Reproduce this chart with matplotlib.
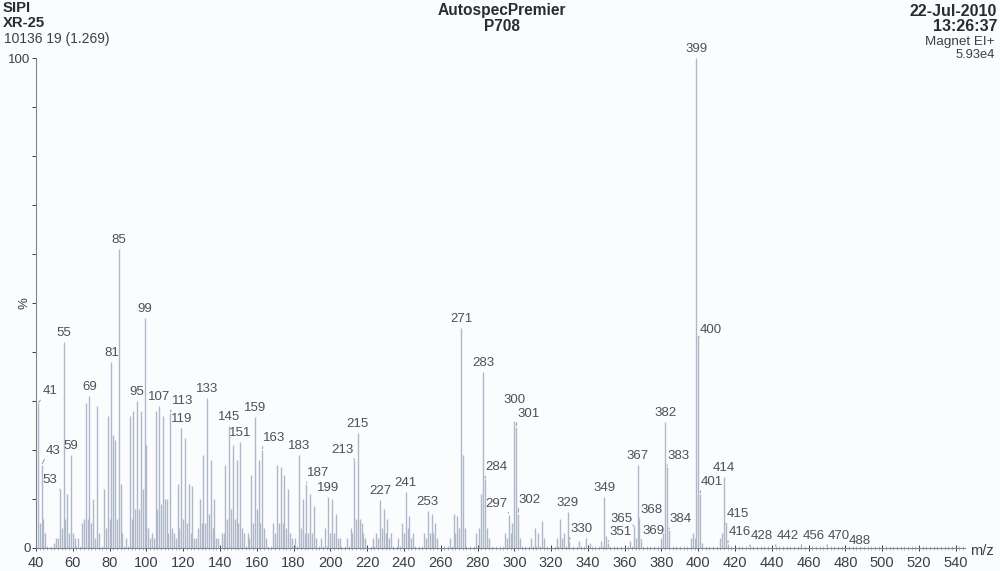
import numpy as np
import matplotlib.pyplot as plt
from matplotlib.ticker import MultipleLocator

# m/z values and relative intensities (%)
mz = [41, 42, 43, 44, 45, 50, 51, 52, 53, 54, 55, 56, 57, 58, 59, 60, 61,
      63, 65, 66, 67, 68, 69, 70, 71, 72, 73, 74,
      77, 78, 79, 80, 81, 82, 83, 84, 85, 86, 87,
      89, 91, 92, 93, 94, 95, 96, 97, 98, 99, 100, 101, 102,
      103, 104, 105, 106, 107, 108, 109, 110, 111, 112, 113, 114, 115, 116,
      117, 118, 119, 120, 121, 122, 123, 124, 125, 126,
      127, 128, 129, 130, 131, 132, 133, 134, 135, 136, 137, 138, 139,
      141, 142, 143, 144, 145, 146, 147, 148, 149, 150, 151, 152, 153,
      155, 156, 157, 158, 159, 160, 161, 162, 163, 164, 165,
      169, 170, 171, 172, 173, 174, 175, 176, 177, 178, 179,
      181, 183, 184, 185, 186, 187, 188, 189, 190, 191, 192,
      195, 197, 199, 200, 201, 202, 203, 204, 205,
      209, 211, 212, 213, 214, 215, 216, 217, 218, 219,
      223, 225, 226, 227, 228, 229, 230, 231, 232, 233,
      237, 239, 240, 241, 242, 243, 244, 245,
      251, 252, 253, 254, 255, 256, 257, 258,
      265, 267, 268, 269, 270, 271, 272, 273,
      279, 281, 282, 283, 284, 285, 286,
      295, 296, 297, 298, 299, 300, 301, 302, 303,
      309, 311, 313, 315, 316,
      323, 325, 326, 327, 329, 330,
      335, 339, 341, 347, 349, 350, 351,
      363, 365, 366, 367, 368, 369,
      380, 381, 382, 383, 384,
      396, 397, 398, 399, 400, 401, 402,
      412, 413, 414, 415, 416, 428, 442, 456, 470, 488]
intensity = [29.5, 5, 17, 6, 3, 1, 2, 2, 12, 4, 42, 6, 11, 3, 19, 3, 2,
             2, 5, 6, 29.6, 6, 31, 5, 10, 2, 29, 3,
             12, 4, 27, 6, 38, 23, 22, 6, 61, 13, 3,
             2, 27, 6, 28, 8, 30, 8, 28, 12, 47, 21, 4, 2,
             3, 2, 28, 8, 29, 9, 27, 10, 10, 3, 27.5, 4, 3, 2,
             13, 4, 24.5, 6, 22.5, 5, 13, 3, 12.7, 2,
             2, 4, 10, 5, 19, 5, 30.6, 7, 18, 4, 10, 2, 2,
             3, 3, 17, 6, 25, 8, 21, 6, 18, 5, 21.6, 4, 3,
             3, 2, 15, 5, 26.7, 8, 18, 5, 20, 4, 2,
             5, 3, 17, 5, 16.5, 5, 15, 4, 12, 3, 2,
             2, 19, 4, 10, 3, 13, 3, 11, 3, 8.5, 2,
             2, 4, 10.5, 3, 10, 3, 7, 2, 2,
             2, 4, 3, 18, 6, 23.5, 6, 5, 3, 2,
             2, 3, 2, 9.8, 4, 8, 3, 6, 2, 3,
             2, 5, 3, 11.5, 4, 6.5, 2, 3,
             3, 2, 7.5, 3, 7, 3, 5, 2,
             2, 7, 3, 6.5, 4, 45, 19, 4,
             3, 4, 11, 36, 14, 4, 2,
             3, 2, 6.8, 3, 5, 26, 24.7, 7, 2,
             2, 4, 3, 5.5, 2,
             2, 6, 2, 3, 7.3, 1.5,
             1.5, 2, 1, 1.5, 10.5, 2.5, 1,
             1.5, 4.5, 2, 17, 6, 1.5,
             2, 3, 25.7, 16.5, 3.6,
             2, 3, 2, 100, 43, 11, 1,
             2, 3, 14.5, 5, 0.8, 0.4, 0.4, 0.4, 0.4, 0.3]

labeled = [41, 43, 53, 55, 59, 69, 81, 85, 95, 99, 107, 113, 119, 133, 145,
           151, 159, 163, 183, 187, 199, 213, 215, 227, 241, 253, 271, 283,
           284, 297, 300, 301, 302, 329, 330, 349, 351, 365, 367, 368, 369,
           382, 383, 384, 399, 400, 401, 414, 415, 416, 428, 442, 456, 470, 488]

# label placement (pixels from peak top to label centre); default is straight above
label_offsets = {41: (12, 12), 43: (12, 14), 53: (-10, 9), 113: (12, 12),
                 163: (12, 12), 187: (12, 11), 213: (-12, 10), 284: (12, 12),
                 297: (-12, 11), 300: (0, 21), 301: (12, 13), 302: (12, 14),
                 330: (12, 12), 351: (12, 11), 365: (-12, 7), 368: (12, 9),
                 369: (12, 10), 383: (12, 11), 384: (12, 11), 400: (12, 7),
                 401: (12, 12), 415: (12, 9), 416: (12, 12), 428: (12, 10),
                 442: (12, 10), 456: (12, 10), 470: (12, 10), 488: (0, 6)}

BAR_COLOR = '#aeb8c8'
TEXT_COLOR = '#3c3f46'
LABEL_COLOR = '#4b505a'
HEAD_COLOR = '#2a2c30'

plt.rcParams['font.family'] = ['Liberation Sans', 'DejaVu Sans']

fig = plt.figure(figsize=(10, 5.71), dpi=100)
fig.patch.set_facecolor('#fbfcfd')
ax = fig.add_axes([0.036, 0.0403, 0.929, 0.858])
ax.set_facecolor('none')

ax.vlines(mz, 0, intensity, color=BAR_COLOR, linewidth=1.0)

heights = dict(zip(mz, intensity))
for m in labeled:
    dx, dy = label_offsets.get(m, (0, 9))
    props = None
    if abs(dx) > 4:
        props = dict(arrowstyle='-', color='#8c93a0', lw=0.7,
                     shrinkA=0, shrinkB=1,
                     relpos=(0.0, 0.0) if dx > 0 else (1.0, 0.0))
    ax.annotate(str(m), xy=(m, heights[m]), xytext=(dx, dy),
                textcoords='offset pixels', ha='center', va='center',
                fontsize=9.5, color=LABEL_COLOR, arrowprops=props,
                annotation_clip=False)

ax.set_xlim(40, 545)
ax.set_ylim(0, 100)
ax.xaxis.set_major_locator(MultipleLocator(20))
ax.xaxis.set_minor_locator(MultipleLocator(2))
ax.set_yticks([0, 100])
ax.yaxis.set_minor_locator(MultipleLocator(10))
ax.tick_params(axis='x', which='major', direction='inout', length=5,
               labelsize=10.5, colors=TEXT_COLOR, width=0.7, pad=3)
ax.tick_params(axis='x', which='minor', direction='inout', length=3,
               color='#9aa2ae', width=0.5)
ax.tick_params(axis='y', which='both', direction='out', length=3,
               labelsize=9.5, colors=TEXT_COLOR, width=0.7, pad=1)
for side in ('top', 'right'):
    ax.spines[side].set_visible(False)
for side in ('left', 'bottom'):
    ax.spines[side].set_color('#7d8490')
    ax.spines[side].set_linewidth(0.8)

ax.text(-0.012, 0.5, '%', transform=ax.transAxes, rotation=90,
        ha='center', va='center', fontsize=9.5, color=TEXT_COLOR)
fig.text(0.970, 0.035, 'm/z', fontsize=10.5, color=TEXT_COLOR, ha='left', va='center')

# header block
fig.text(0.003, 0.986, 'SIPI', fontsize=10.7, fontweight='bold', color=HEAD_COLOR, va='center')
fig.text(0.003, 0.960, 'XR-25', fontsize=10.7, fontweight='bold', color=HEAD_COLOR, va='center')
fig.text(0.004, 0.932, '10136 19 (1.269)', fontsize=10, color=TEXT_COLOR, va='center')
fig.text(0.502, 0.981, 'AutospecPremier', fontsize=11.2, fontweight='bold',
         color=HEAD_COLOR, ha='center', va='center')
fig.text(0.502, 0.954, 'P708', fontsize=11.2, fontweight='bold',
         color=HEAD_COLOR, ha='center', va='center')
fig.text(0.997, 0.979, '22-Jul-2010', fontsize=11.5, fontweight='bold',
         color=HEAD_COLOR, ha='right', va='center')
fig.text(0.997, 0.953, '13:26:37', fontsize=11.5, fontweight='bold',
         color=HEAD_COLOR, ha='right', va='center')
fig.text(0.995, 0.926, 'Magnet EI+', fontsize=9.7, color=TEXT_COLOR, ha='right', va='center')
fig.text(0.995, 0.904, '5.93e4', fontsize=9.3, color=TEXT_COLOR, ha='right', va='center')

fig.savefig('out.png', dpi=100, facecolor=fig.get_facecolor())
